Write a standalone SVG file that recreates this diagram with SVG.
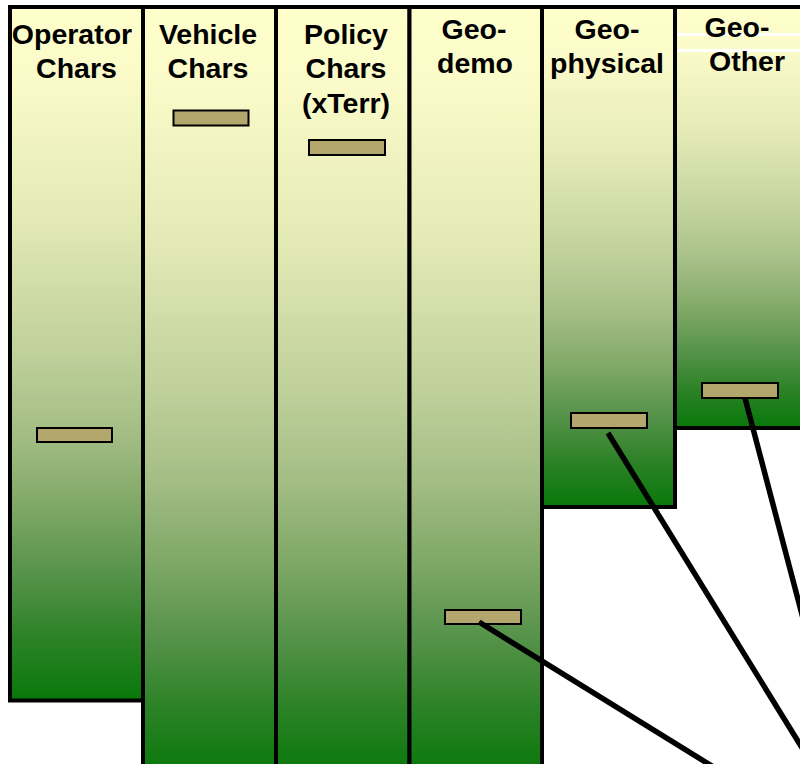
<svg xmlns="http://www.w3.org/2000/svg" width="800" height="764" viewBox="0 0 800 764">
<defs>
<linearGradient id="g" x1="0" y1="0" x2="0" y2="1">
<stop offset="0" stop-color="#FFFFCC"/>
<stop offset="0.1" stop-color="#FAFBC8"/>
<stop offset="0.3" stop-color="#E4EAB6"/>
<stop offset="0.5" stop-color="#BFD09B"/>
<stop offset="0.62" stop-color="#A2BC84"/>
<stop offset="0.72" stop-color="#7FA866"/>
<stop offset="0.82" stop-color="#55924A"/>
<stop offset="0.91" stop-color="#2C8226"/>
<stop offset="1" stop-color="#08780A"/>
</linearGradient>
</defs>
<style>
.col{fill:url(#g);stroke:#000;stroke-width:4}
.mk{fill:#B3A76E;stroke:#000;stroke-width:2}
.t{font-family:"Liberation Sans",Arial,sans-serif;font-weight:bold;font-size:28.5px;fill:#000;text-anchor:middle}
.cn{stroke:#000;stroke-width:5.5;fill:none}
</style>
<rect width="800" height="764" fill="#fff"/>
<g id="operator">
<rect class="col" x="10" y="7" width="133" height="693.5"/>
<text class="t" x="72" y="44">Operator</text>
<text class="t" x="76.5" y="78">Chars</text>
<rect class="mk" x="37" y="428" width="75" height="14"/>
</g>
<g id="vehicle">
<rect class="col" x="143" y="7" width="133" height="770"/>
<text class="t" x="208" y="44">Vehicle</text>
<text class="t" x="208" y="78">Chars</text>
<rect class="mk" x="173.5" y="110.5" width="75" height="15"/>
</g>
<g id="policy">
<rect class="col" x="276" y="7" width="133.5" height="770"/>
<text class="t" x="346" y="44">Policy</text>
<text class="t" x="346" y="78">Chars</text>
<text class="t" x="346" y="113">(xTerr)</text>
<rect class="mk" x="309" y="140" width="76" height="15"/>
</g>
<g id="geodemo">
<rect class="col" x="409.5" y="7" width="132.5" height="770"/>
<text class="t" x="474" y="39">Geo-</text>
<text class="t" x="475" y="73">demo</text>
<rect class="mk" x="445" y="610" width="76" height="14"/>
</g>
<g id="geophysical">
<rect class="col" x="542" y="7" width="133" height="500"/>
<text class="t" x="607" y="39">Geo-</text>
<text class="t" x="607" y="73">physical</text>
<rect class="mk" x="571" y="413" width="76" height="15"/>
</g>
<g id="geoother">
<rect class="col" x="675" y="7" width="140" height="421"/>
<rect x="677" y="33" width="123" height="3" fill="#fff"/>
<rect x="677" y="49" width="123" height="3" fill="#fff"/>
<text class="t" x="737" y="37">Geo-</text>
<text class="t" x="747" y="71">Other</text>
<rect class="mk" x="702" y="383" width="76" height="15"/>
</g>
<g id="connectors">
<line class="cn" x1="479" y1="622" x2="749" y2="789"/>
<line class="cn" x1="608" y1="433" x2="820" y2="777"/>
<line class="cn" x1="745" y1="398" x2="810" y2="645"/>
</g>
</svg>
